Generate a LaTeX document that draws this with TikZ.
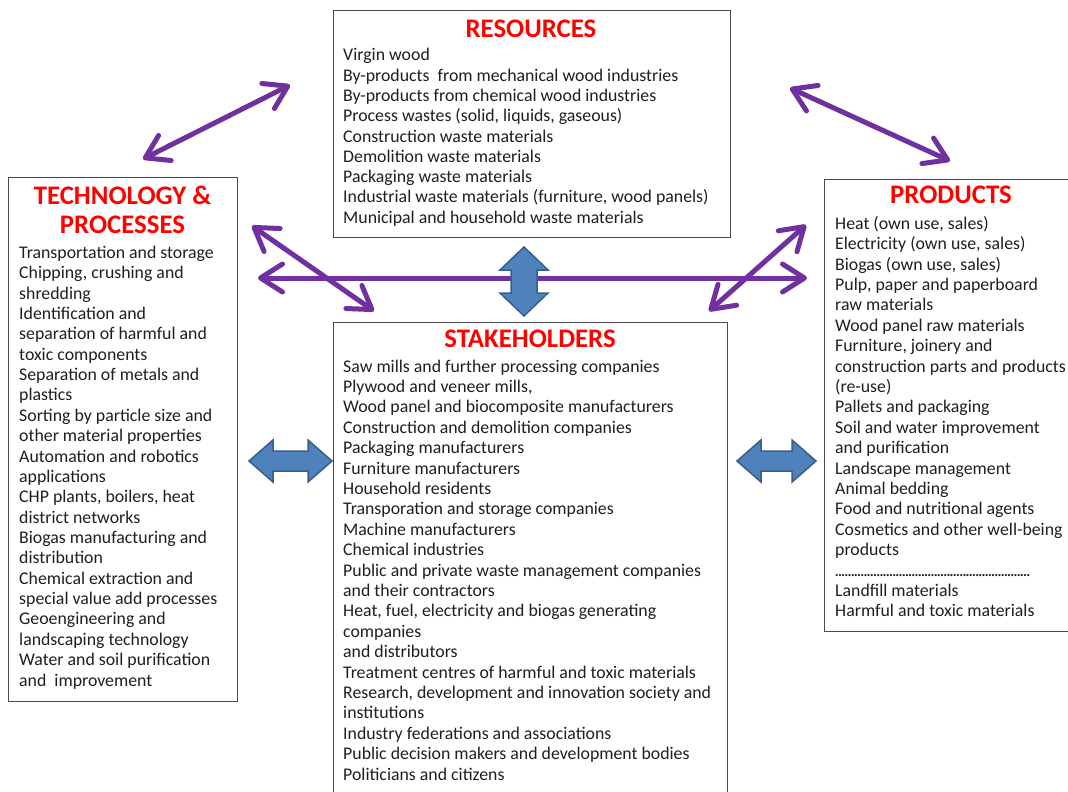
\documentclass[tikz,border=0pt]{standalone}
\usepackage{fontspec}
\setmainfont{Carlito}
\usetikzlibrary{arrows.meta}
\definecolor{purp}{HTML}{7030A0}
\definecolor{bfill}{HTML}{4F81BD}
\definecolor{bdraw}{HTML}{385D8A}
\definecolor{ttlred}{HTML}{FF0000}
\newcommand{\bodyfnt}{\fontsize{17.8}{20}\selectfont}
\newcommand{\ttlfnt}{\fontsize{26.8}{29}\selectfont\bfseries}
\tikzset{
  panel/.style={draw=black!70, line width=1pt, anchor=north west, inner sep=0, fill=white},
  ttl/.style={font=\ttlfnt, text=ttlred, anchor=base, inner sep=0},
  ln/.style={font=\bodyfnt, anchor=base west, inner sep=0, text=black!88},
  parrow/.style={draw=purp, line width=5pt, line cap=round,
    {Straight Barb[round,length=22pt,width=28pt]}-{Straight Barb[round,length=22pt,width=28pt]}},
  barrow/.style={fill=bfill, draw=bdraw, line width=1.5pt, line join=miter}
}
\begin{document}
\begin{tikzpicture}[x=1pt,y=-1pt]
\useasboundingbox (0,0) rectangle (1068,792);
% panels
\node[panel, minimum width=397pt, minimum height=227pt] (res) at (333,10) {};
\node[panel, minimum width=229pt, minimum height=524pt] (tech) at (8,177) {};
\node[panel, minimum width=394pt, minimum height=480pt] (stake) at (333,322) {};
\node[panel, minimum width=254pt, minimum height=452pt] (prod) at (824,179) {};
% titles
\node[ttl] (tres) at (531,37.3) {RESOURCES};
\node[ttl] (ttech1) at (122.5,204.3) {TECHNOLOGY \&};
\node[ttl] (ttech2) at (122.5,233.3) {PROCESSES};
\node[ttl] (tprod) at (951,203.3) {PRODUCTS};
\node[ttl] (tstake) at (530,347) {STAKEHOLDERS};
% resources lines
\foreach \t [count=\i] in {{Virgin wood},{By-products\ \ from mechanical wood industries},{By-products from chemical wood industries},{Process wastes (solid, liquids, gaseous)},{Construction waste materials},{Demolition waste materials},{Packaging waste materials},{Industrial waste materials (furniture, wood panels)},{Municipal and household waste materials}}
  \node[ln] (r\i) at (343,{61+(\i-1)*20.25}) {\t};
% technology lines
\foreach \t [count=\i] in {{Transportation and storage},{Chipping, crushing and},{shredding},{Identification and},{separation of harmful and},{toxic components},{Separation of metals and},{plastics},{Sorting by particle size and},{other material properties},{Automation and robotics},{applications},{CHP plants, boilers, heat},{district networks},{Biogas manufacturing and},{distribution},{Chemical extraction and},{special value add processes},{Geoengineering and},{landscaping technology},{Water and soil purification},{and\ \ improvement}}
  \node[ln] (t\i) at (19,{258.3+(\i-1)*20.37}) {\t};
% stakeholders lines
\foreach \t [count=\i] in {{Saw mills and further processing companies},{Plywood and veneer mills,},{Wood panel and biocomposite manufacturers},{Construction and demolition companies},{Packaging manufacturers},{Furniture manufacturers},{Household residents},{Transporation and storage companies},{Machine manufacturers},{Chemical industries},{Public and private waste management companies},{and their contractors},{Heat, fuel, electricity and biogas generating},{companies},{and distributors},{Treatment centres of harmful and toxic materials},{Research, development and innovation society and},{institutions},{Industry federations and associations},{Public decision makers and development bodies},{Politicians and citizens}}
  \node[ln] (s\i) at (343,{372+(\i-1)*20.4}) {\t};
% products lines
\foreach \t [count=\i] in {{Heat (own use, sales)},{Electricity (own use, sales)},{Biogas (own use, sales)},{Pulp, paper and paperboard},{raw materials},{Wood panel raw materials},{Furniture, joinery and},{construction parts and products},{(re-use)},{Pallets and packaging},{Soil and water improvement},{and purification},{Landscape management},{Animal bedding},{Food and nutritional agents},{Cosmetics and other well-being},{products},{\hbox to 197pt{\leaders\hbox to 3.2pt{\hss.\hss}\hfill}},{Landfill materials},{Harmful and toxic materials}}
  \node[ln] (p\i) at (835,{229.3+(\i-1)*20.4}) {\t};
% purple arrow end points
\coordinate (a1) at (143,159);
\coordinate (a2) at (290,85);
\coordinate (b1) at (790,88);
\coordinate (b2) at (950,161);
\coordinate (h1) at (258,278);
\coordinate (h2) at (807,278);
\coordinate (d1) at (252,226);
\coordinate (d2) at (374,311);
\coordinate (e1) at (806,225);
\coordinate (e2) at (709,311);
\draw[parrow] (a1) -- (a2);
\draw[parrow] (b1) -- (b2);
\draw[parrow] (h1) -- (h2);
\draw[parrow] (d1) -- (d2);
\draw[parrow] (e1) -- (e2);
% blue block arrows
\draw[barrow] (249,461) -- (273,440) -- (273,451) -- (308,451) -- (308,440) -- (332,461) -- (308,482) -- (308,471) -- (273,471) -- (273,482) -- cycle;
\draw[barrow] (737,461) -- (761,440) -- (761,451) -- (792,451) -- (792,440) -- (816,461) -- (792,482) -- (792,471) -- (761,471) -- (761,482) -- cycle;
\draw[barrow] (524,247) -- (548,270) -- (537,270) -- (537,293) -- (548,293) -- (524,316) -- (500,293) -- (511,293) -- (511,270) -- (500,270) -- cycle;
\end{tikzpicture}
\end{document}
